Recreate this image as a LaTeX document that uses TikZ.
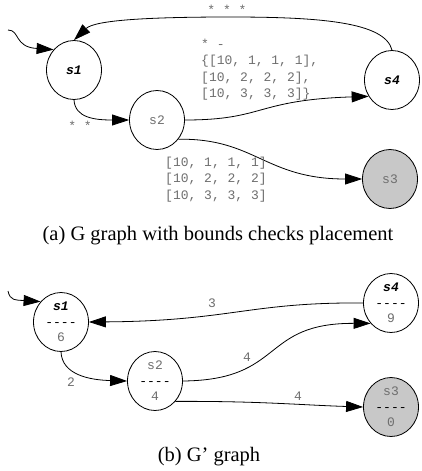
\documentclass[tikz,border=0pt]{standalone}
\usepackage{fontspec}
\setmainfont{Liberation Serif}
\setmonofont{Liberation Mono}
\usetikzlibrary{shapes.geometric,arrows.meta}
\definecolor{lbl}{HTML}{6E6E6E}
\definecolor{fillg}{HTML}{C8C8C8}
\tikzset{
  st/.style={ellipse,draw=black,line width=0.8pt,fill=white,minimum width=55pt,minimum height=59pt,inner sep=0pt,
    font=\ttfamily\fontsize{13}{15.5}\selectfont,text=lbl,align=center},
  fin/.style={fill=fillg},
  bold/.style={font=\ttfamily\bfseries\itshape\fontsize{13}{15.5}\selectfont,text=black},
  edge/.style={draw=black,line width=0.8pt,-{Triangle[length=17pt,width=11pt]}},
  lab/.style={font=\ttfamily\fontsize{13}{16.3}\selectfont,text=lbl,inner sep=0pt,align=left},
  captxt/.style={font=\fontsize{20.5}{23}\selectfont,inner sep=0pt}
}
\begin{document}
\begin{tikzpicture}[x=1pt,y=-1pt]
\useasboundingbox (0,0) rectangle (421,471);
% ---- top graph
\node[st,bold] (a1) at (74,70) {s1};
\node[st] (a2) at (157,120) {s2};
\node[st,bold] (a4) at (392,80) {s4};
\node[st,fin] (a3) at (390,179) {s3};
\coordinate (ai) at (8,30);
\draw[edge] (ai) .. controls (20,30) and (14,47) .. (a1.135);
\draw[edge] (a4.north) .. controls (385,22) and (320,17) .. (230,17) .. controls (150,17) and (95,20) .. (a1.north);
\draw[edge] (a1.south) .. controls (75,118) and (95,120) .. (a2.west);
\draw[edge] (a2.east) .. controls (265,120) and (255,100) .. (a4.215);
\draw[edge] (a2.-42) .. controls (255,138) and (265,179) .. (a3.west);
\node[lab] (la) at (227,10) {* * *};
\node[lab] (lb) at (80,126) {* *};
\node[lab,anchor=north west] (lc) at (201,39) {* -\\\relax\{{[}10, 1, 1, 1],\\\relax{[}10, 2, 2, 2],\\\relax{[}10, 3, 3, 3]\}};
\node[lab,anchor=north west] (ld) at (165,157) {{[}10, 1, 1, 1]\\\relax{[}10, 2, 2, 2]\\\relax{[}10, 3, 3, 3]};
\node[captxt] (capa) at (218,236) {(a) G graph with bounds checks placement};
% ---- bottom graph
\node[st] (b1) at (61,322) {{\bfseries\itshape\color{black}s1}\\{\color{black}----}\\6};
\node[st] (b2) at (155,381) {s2\\{\color{black}----}\\4};
\node[st] (b4) at (391,303) {{\bfseries\itshape\color{black}s4}\\{\color{black}----}\\9};
\node[st,fin] (b3) at (391,407) {s3\\{\color{black}----}\\0};
\coordinate (bi) at (8,291);
\draw[edge] (bi) .. controls (10,301) and (16,300) .. (b1.135);
\draw[edge] (b4.west) .. controls (250,302) and (230,321) .. (b1.east);
\draw[edge] (b1.south) .. controls (62,375) and (90,380) .. (b2.west);
\draw[edge] (b2.east) .. controls (285,380) and (260,323) .. (b4.225);
\draw[edge] (b2.-45) .. controls (260,401) and (300,405) .. (b3.west);
\node[lab] (l3) at (212,303) {3};
\node[lab] (l2) at (71,382) {2};
\node[lab] (l4a) at (247,357) {4};
\node[lab] (l4b) at (298,396) {4};
\node[captxt] (capb) at (209,457) {(b) G’ graph};
\end{tikzpicture}
\end{document}
